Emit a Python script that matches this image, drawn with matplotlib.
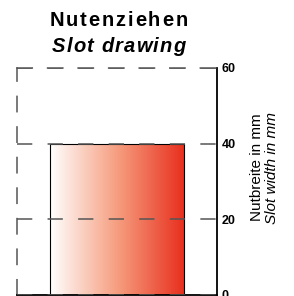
import numpy as np
import matplotlib
matplotlib.use("Agg")
import matplotlib.pyplot as plt
from matplotlib.colors import LinearSegmentedColormap
from matplotlib.font_manager import FontProperties, findfont
from matplotlib.ft2font import FT2Font

plt.rcParams['font.family'] = ['Liberation Sans', 'DejaVu Sans']

categories = ["Nutenziehen"]
values = [40]
yticks = [0, 20, 40, 60]
title_de = "Nutenziehen"
title_en = "Slot drawing"
ylabel_de = "Nutbreite in mm"
ylabel_en = "Slot width in mm"

W, H, DPI = 294, 296, 100
fig = plt.figure(figsize=(W / DPI, H / DPI), dpi=DPI)
ax = fig.add_axes([17/W, 1-294.5/H, 200/W, (294.5-68)/H])

x = np.arange(len(categories))
bars = ax.bar(x, values, width=0.67, color='none', edgecolor='black', linewidth=0.8, zorder=2)

cmap = LinearSegmentedColormap.from_list('g', [(1, 1, 1), (0.965, 0.62, 0.50), (0.91, 0.19, 0.12)])
grad = np.linspace(0, 1, 256).reshape(1, -1)
for b in bars:
    bx, by = b.get_x(), b.get_y()
    w, h = b.get_width(), b.get_height()
    im = ax.imshow(grad, cmap=cmap, aspect='auto', extent=[bx, bx + w, by, by + h], zorder=1)
    im.set_clip_path(b)

ax.set_xlim(-0.5, 0.5)
ax.set_ylim(0, 60)
ax.set_yticks(yticks)
ax.set_xticks([])
ax.yaxis.tick_right()
ax.tick_params(axis='y', length=0, pad=3.5, labelsize=9)
for t in ax.get_yticklabels():
    t.set_fontweight('bold')

dash = (0, (10, 10))
ax.grid(axis='y', color='#555555', linestyle=dash, linewidth=1.1, zorder=3)
ax.set_axisbelow(False)

for s in ['left', 'top']:
    ax.spines[s].set_linestyle(dash)
    ax.spines[s].set_color('#555555')
    ax.spines[s].set_linewidth(1.1)
ax.spines['right'].set_linewidth(1.3)
ax.spines['bottom'].set_linewidth(1.3)


def spaced_text(s, cx, cy, target_w, size, weight='normal', style='normal'):
    prop = FontProperties(family='Liberation Sans', size=size, weight=weight, style=style)
    font = FT2Font(findfont(prop))
    font.set_size(size, DPI)
    adv = [font.load_char(ord(c)).linearHoriAdvance / 65536 for c in s]
    natural = sum(adv)
    sp = (target_w - natural) / max(len(s) - 1, 1)
    xpos = cx - target_w / 2
    for c, a in zip(s, adv):
        fig.text(xpos / W, 1 - cy / H, c, ha='left', va='center', fontproperties=prop)
        xpos += a + sp


spaced_text(title_de, 118.5, 20.5, 138, 14.5, weight='bold')
spaced_text(title_en, 118.5, 46.5, 133, 14.5, weight='bold', style='italic')

fig.text(257/W, 1-167.5/H, ylabel_de, rotation=90, ha='center', va='center', fontsize=11)
fig.text(272/W, 1-167.5/H, ylabel_en, rotation=90, ha='center', va='center', fontsize=11, style='italic')

fig.savefig('out.png', dpi=DPI)
